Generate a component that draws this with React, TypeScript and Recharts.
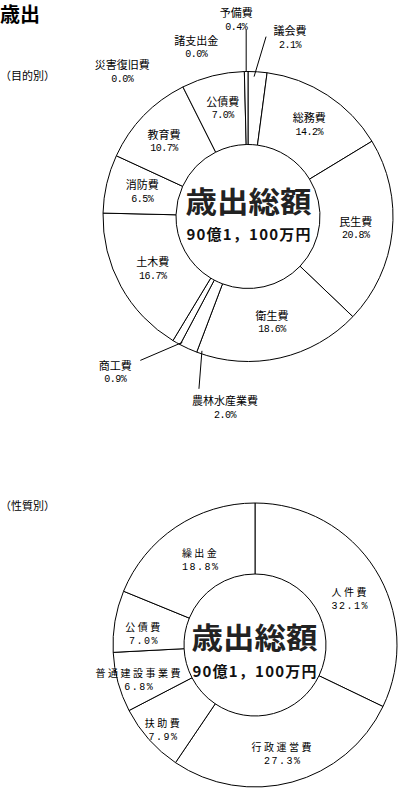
import React from 'react';
import { PieChart, Pie } from 'recharts';

// 目的別
const purposeNames = ['議会費', '総務費', '民生費', '衛生費', '農林水産業費', '商工費', '土木費', '消防費', '教育費', '公債費', '災害復旧費', '諸支出金', '予備費'];
const purposeValues = [2.1, 14.2, 20.8, 18.6, 2.0, 0.9, 16.7, 6.5, 10.7, 7.0, 0.0, 0.0, 0.4];

// 性質別
const natureNames = ['人件費', '行政運営費', '扶助費', '普通建設事業費', '公債費', '繰出金'];
const natureValues = [32.1, 27.3, 7.9, 6.8, 7.0, 18.8];

const TITLE = '歳出';
const PURPOSE_CAPTION = '（目的別）';
const NATURE_CAPTION = '（性質別）';
const TOTAL_TITLE = '歳出総額';
const TOTAL_AMOUNT = '90億1，100万円';

const purposeData = purposeNames.map((name, i) => ({ name, value: purposeValues[i] }));
const natureData = natureNames.map((name, i) => ({ name, value: natureValues[i] }));

const FONT = '"Noto Sans CJK JP", "Noto Sans", sans-serif';
const MONO = '"Liberation Mono", "DejaVu Sans Mono", monospace';
const RAD = Math.PI / 180;

// pie geometry
const P1 = { cx: 248, cy: 216.5, inner: 72, outer: 145 };
const P2 = { cx: 255, cy: 645, inner: 71, outer: 142 };

const polar = (cx: number, cy: number, r: number, angle: number) => ({
    x: cx + r * Math.cos(-angle * RAD),
    y: cy + r * Math.sin(-angle * RAD),
});

type Outside = { r: number; shift: number; label: [number, number]; line?: [number, number] };

// small slices get their label outside, with an optional leader line
const purposeOutside: Record<string, Outside> = {
    '議会費': { r: 140, shift: -1.3, label: [36, -39], line: [12, -40] },
    '予備費': { r: 145, shift: 0, label: [-10, -52], line: [0, -42] },
    '諸支出金': { r: 145, shift: 0, label: [-48, -24.5] },
    '災害復旧費': { r: 145, shift: 0, label: [-122, 0] },
    '商工費': { r: 142, shift: -2, label: [-67, 30], line: [-42, 18] },
    '農林水産業費': { r: 142, shift: -5.4, label: [23, 57], line: [-3, 38] },
};
const purposeNudge: Record<string, [number, number]> = {
    '総務費': [2, -1],
    '教育費': [-6, 0],
    '公債費': [1, -3],
};
const natureNudge: Record<string, [number, number]> = {
    '人件費': [5, 11],
    '行政運営費': [0, 6],
    '扶助費': [-12, 14],
    '普通建設事業費': [-13, 7],
    '公債費': [-6, 7],
    '繰出金': [5, 3],
};

const makeLabel = (
    nudge: Record<string, [number, number]>,
    outside: Record<string, Outside>,
    spaced: boolean
) => (props: any) => {
    const { cx, cy, midAngle, innerRadius, outerRadius, value } = props;
    const name: string = props.payload?.name ?? props.name;
    const pct = `${Number(value).toFixed(1)}%`;
    let x: number;
    let y: number;
    let line: React.ReactNode = null;
    const o = outside[name];
    if (o) {
        const a = polar(cx, cy, o.r, midAngle - o.shift);
        x = a.x + o.label[0];
        y = a.y + o.label[1];
        if (o.line) {
            line = <line x1={a.x} y1={a.y} x2={a.x + o.line[0]} y2={a.y + o.line[1]} stroke="#000" strokeWidth={1} />;
        }
    } else {
        const p = polar(cx, cy, (innerRadius + outerRadius) / 2, midAngle);
        const n = nudge[name] || [0, 0];
        x = p.x + n[0];
        y = p.y + n[1];
    }
    return (
        <g>
            {line}
            <text x={x} y={y - 7.5} textAnchor="middle" dominantBaseline="central"
                fontFamily={FONT} fontSize={spaced ? 10 : 11} letterSpacing={spaced ? 2.5 : 0} fill="#000">
                {name}
            </text>
            <text x={x} y={y + 7.5} textAnchor="middle" dominantBaseline="central"
                fontFamily={MONO} fontSize={10} letterSpacing={spaced ? 1.5 : -0.5} fill="#000">
                {pct}
            </text>
        </g>
    );
};

const CenterTotal: React.FC<{ x: number; y1: number; y2: number }> = ({ x, y1, y2 }) => (
    <g>
        <text x={x} y={y1} textAnchor="middle" dominantBaseline="central" fontFamily={FONT}
            fontSize={29} fontWeight="bold" fill="#222" textLength={126} lengthAdjust="spacingAndGlyphs">
            {TOTAL_TITLE}
        </text>
        <text x={x} y={y2} textAnchor="middle" dominantBaseline="central" fontFamily={FONT}
            fontSize={15} fontWeight="bold" fill="#111" textLength={124} lengthAdjust="spacing">
            {TOTAL_AMOUNT}
        </text>
    </g>
);

const App: React.FC = () => (
    <div style={{ position: 'absolute', left: 0, top: 0, width: 401, height: 795, background: '#fff' }}>
        <PieChart width={401} height={795} margin={{ top: 0, right: 0, bottom: 0, left: 0 }}>
            <Pie
                data={purposeData}
                dataKey="value"
                nameKey="name"
                cx={P1.cx}
                cy={P1.cy}
                innerRadius={P1.inner}
                outerRadius={P1.outer}
                startAngle={90}
                endAngle={-270}
                fill="#fff"
                stroke="#000"
                strokeWidth={1}
                labelLine={false}
                label={makeLabel(purposeNudge, purposeOutside, false)}
                isAnimationActive={false}
            />
            <Pie
                data={natureData}
                dataKey="value"
                nameKey="name"
                cx={P2.cx}
                cy={P2.cy}
                innerRadius={P2.inner}
                outerRadius={P2.outer}
                startAngle={90}
                endAngle={-270}
                fill="#fff"
                stroke="#000"
                strokeWidth={1}
                labelLine={false}
                label={makeLabel(natureNudge, {}, true)}
                isAnimationActive={false}
            />
        </PieChart>
        <svg width={401} height={795} style={{ position: 'absolute', left: 0, top: 0, pointerEvents: 'none' }}>
            <text x={0} y={13} dominantBaseline="central" fontFamily={FONT} fontSize={20} fontWeight="bold" fill="#000">{TITLE}</text>
            <text x={0} y={75} dominantBaseline="central" fontFamily={FONT} fontSize={11} fill="#000">{PURPOSE_CAPTION}</text>
            <text x={0} y={505} dominantBaseline="central" fontFamily={FONT} fontSize={11} fill="#000">{NATURE_CAPTION}</text>
            <CenterTotal x={248.5} y1={P1.cy - 17} y2={P1.cy + 16.5} />
            <CenterTotal x={254.5} y1={P2.cy - 9} y2={P2.cy + 25} />
        </svg>
    </div>
);

export default App;
